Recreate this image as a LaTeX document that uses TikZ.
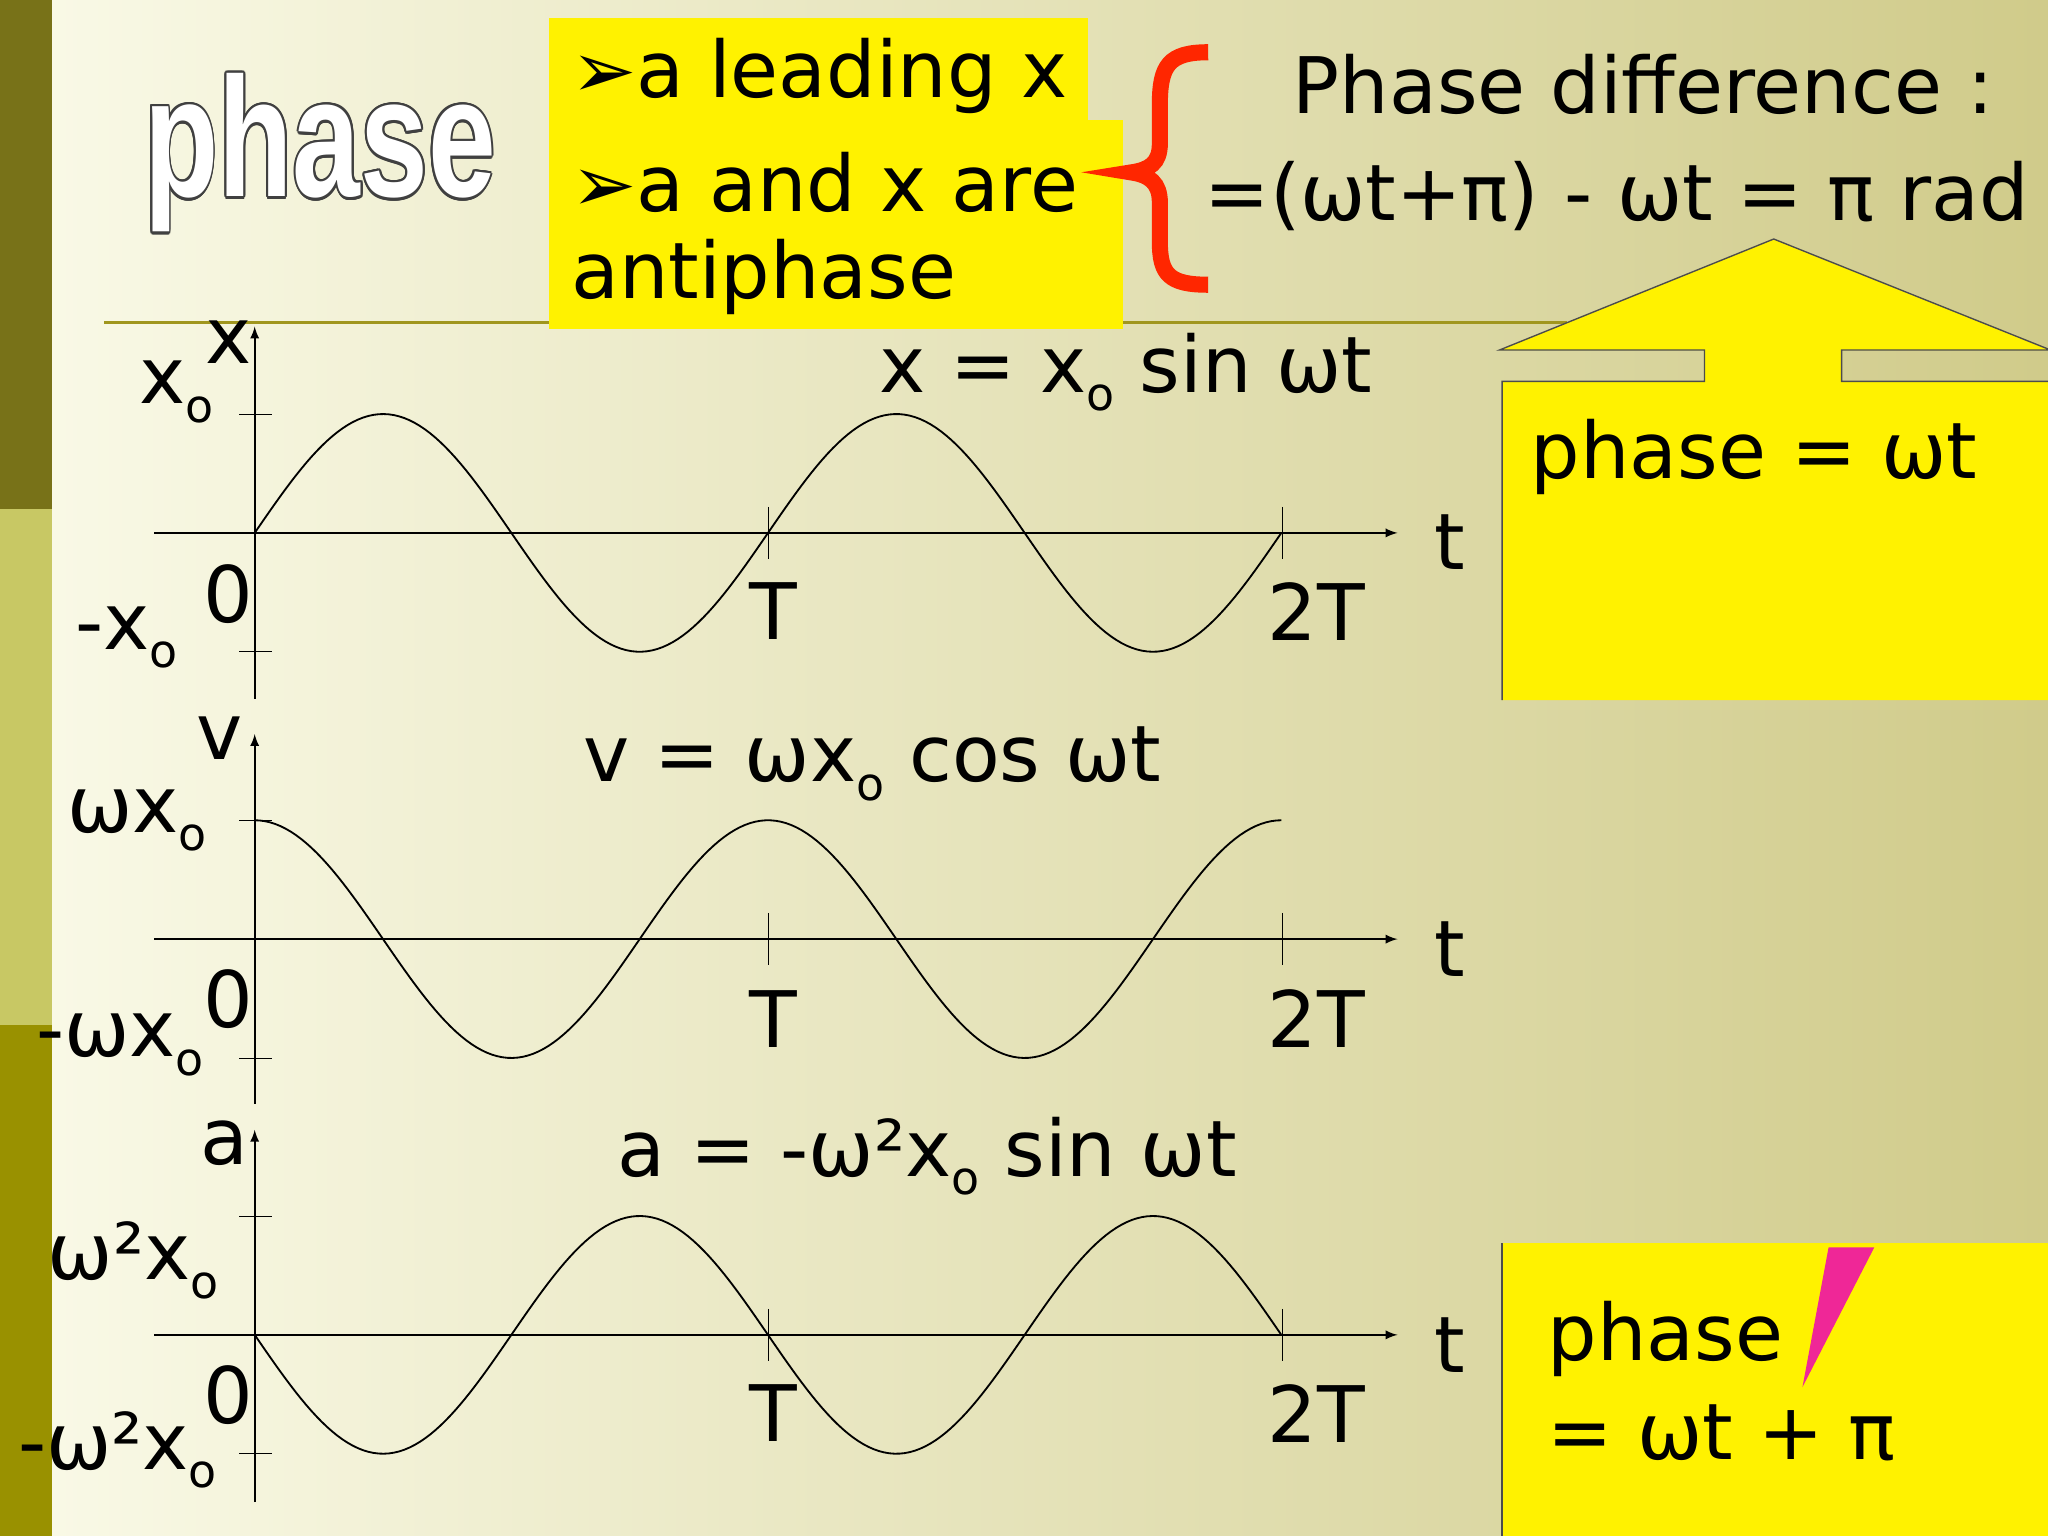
\documentclass[tikz,border=0pt]{standalone}
\usepackage{fontspec}
\setmainfont{DejaVu Sans}
\newfontfamily\phfont{Liberation Sans}
\usepackage{contour}
\contourlength{1.2pt}
\definecolor{bgR}{RGB}{208,203,138}
\definecolor{bgL}{RGB}{250,250,232}
\definecolor{lineol}{RGB}{160,150,30}
\definecolor{stripM}{RGB}{200,200,100}
\begin{document}
\begin{tikzpicture}[x=0.02cm,y=-0.02cm,
  lbl/.style={font=\fontsize{34}{40}\selectfont,inner sep=0pt},
  ybox/.style={fill=yellow,draw=none},
  wave/.style={line width=0.8pt},
  ax/.style={line width=0.8pt,-latex}]
\useasboundingbox (0,0) rectangle (1568,1176);
\shade[left color=bgL,right color=bgR] (0,0) rectangle (1568,1176);
\fill[olive!80!black] (0,0) rectangle (40,390);
\fill[stripM] (0,390) rectangle (40,785);
\fill[olive!90!yellow] (0,785) rectangle (40,1176);
\node (ph) at (245,118) {\scalebox{0.68}[0.95]{\fontsize{78}{80}\selectfont\phfont\bfseries\contour{black!75}{\textcolor{white}{phase}}}};
\draw[lineol,line width=1.5pt] (80,247) -- (1200,247);
% yellow boxes
\fill[ybox] (420,14) rectangle (833,92);
\fill[ybox] (420,92) rectangle (860,252);
\node[lbl,anchor=west] (b1) at (437,58) {➢a leading x};
\node[lbl,anchor=west] (b2) at (437,140) {➢a and x are};
\node[lbl,anchor=west] (b3) at (437,212) {antiphase};
\draw[red!70!orange,line width=7pt] (925,40) .. controls (895,40) and (888,50) .. (888,80) -- (888,110) .. controls (888,125) and (880,130) .. (866,132) .. controls (880,134) and (888,140) .. (888,155) -- (888,185) .. controls (888,210) and (895,218) .. (925,218);
\node[lbl] (pd) at (1258,65) {Phase difference :};
\node[lbl] (pd2) at (1238,150) {=(ωt+π) - ωt = π rad};
% callout
\draw[ybox,draw=black!70,line width=0.6pt] (1150,536) -- (1150,292) -- (1305,292) -- (1305,268) -- (1148,268) -- (1358,183) -- (1570,268) -- (1410,268) -- (1410,292) -- (1570,292) -- (1570,536);
\node[lbl] (p1) at (1343,350) {phase = ωt};
\fill[ybox] (1150,952) rectangle (1568,1176);
\draw[black!70,line width=0.6pt] (1150,952) -- (1150,1176);
\fill[magenta!80!pink] (1380,1062) -- (1400,955) -- (1435,955) -- cycle;
\node[lbl] (p2) at (1275,1025) {phase};
\node[lbl] (p3) at (1318,1097) {= ωt + π};
% graph 1
\draw[ax] (118,408) -- (1070,408);
\draw[ax] (195,535) -- (195,250);
\draw (183,317) -- (208,317) (183,499) -- (208,499) (588,388) -- (588,428) (982,388) -- (982,428);
\draw[wave] plot[domain=0:786,samples=200] ({195+\x},{408-91*sin(\x/393*360)});
\node[lbl] at (175,262) {x};
\node[lbl] at (135,300) {x\raisebox{-8pt}{\fontsize{20}{20}\selectfont o}};
\node[lbl] at (175,455) {0};
\node[lbl] at (97,488) {-x\raisebox{-8pt}{\fontsize{20}{20}\selectfont o}};
\node[lbl] at (592,468) {T};
\node[lbl] at (1008,468) {2T};
\node[lbl] at (1110,415) {t};
\node[lbl] at (862,285) {x = x\raisebox{-8pt}{\fontsize{20}{20}\selectfont o} sin ωt};
% graph 2
\draw[ax] (118,719) -- (1070,719);
\draw[ax] (195,845) -- (195,562);
\draw (183,628) -- (208,628) (183,810) -- (208,810) (588,699) -- (588,739) (982,699) -- (982,739);
\draw[wave] plot[domain=0:786,samples=200] ({195+\x},{719-91*cos(\x/393*360)});
\node[lbl] at (168,565) {v};
\node[lbl] at (105,628) {ωx\raisebox{-8pt}{\fontsize{20}{20}\selectfont o}};
\node[lbl] at (175,765) {0};
\node[lbl] at (92,800) {-ωx\raisebox{-8pt}{\fontsize{20}{20}\selectfont o}};
\node[lbl] at (592,780) {T};
\node[lbl] at (1008,780) {2T};
\node[lbl] at (1110,727) {t};
\node[lbl] at (668,585) {v = ωx\raisebox{-8pt}{\fontsize{20}{20}\selectfont o} cos ωt};
% graph 3
\draw[ax] (118,1022) -- (1070,1022);
\draw[ax] (195,1150) -- (195,865);
\draw (183,931) -- (208,931) (183,1113) -- (208,1113) (588,1002) -- (588,1042) (982,1002) -- (982,1042);
\draw[wave] plot[domain=0:786,samples=200] ({195+\x},{1022+91*sin(\x/393*360)});
\node[lbl] at (172,875) {a};
\node[lbl] at (102,965) {ω²x\raisebox{-8pt}{\fontsize{20}{20}\selectfont o}};
\node[lbl] at (175,1068) {0};
\node[lbl] at (90,1110) {-ω²x\raisebox{-8pt}{\fontsize{20}{20}\selectfont o}};
\node[lbl] at (592,1082) {T};
\node[lbl] at (1008,1082) {2T};
\node[lbl] at (1110,1030) {t};
\node[lbl] at (710,885) {a = -ω²x\raisebox{-8pt}{\fontsize{20}{20}\selectfont o} sin ωt};
\end{tikzpicture}
\end{document}
